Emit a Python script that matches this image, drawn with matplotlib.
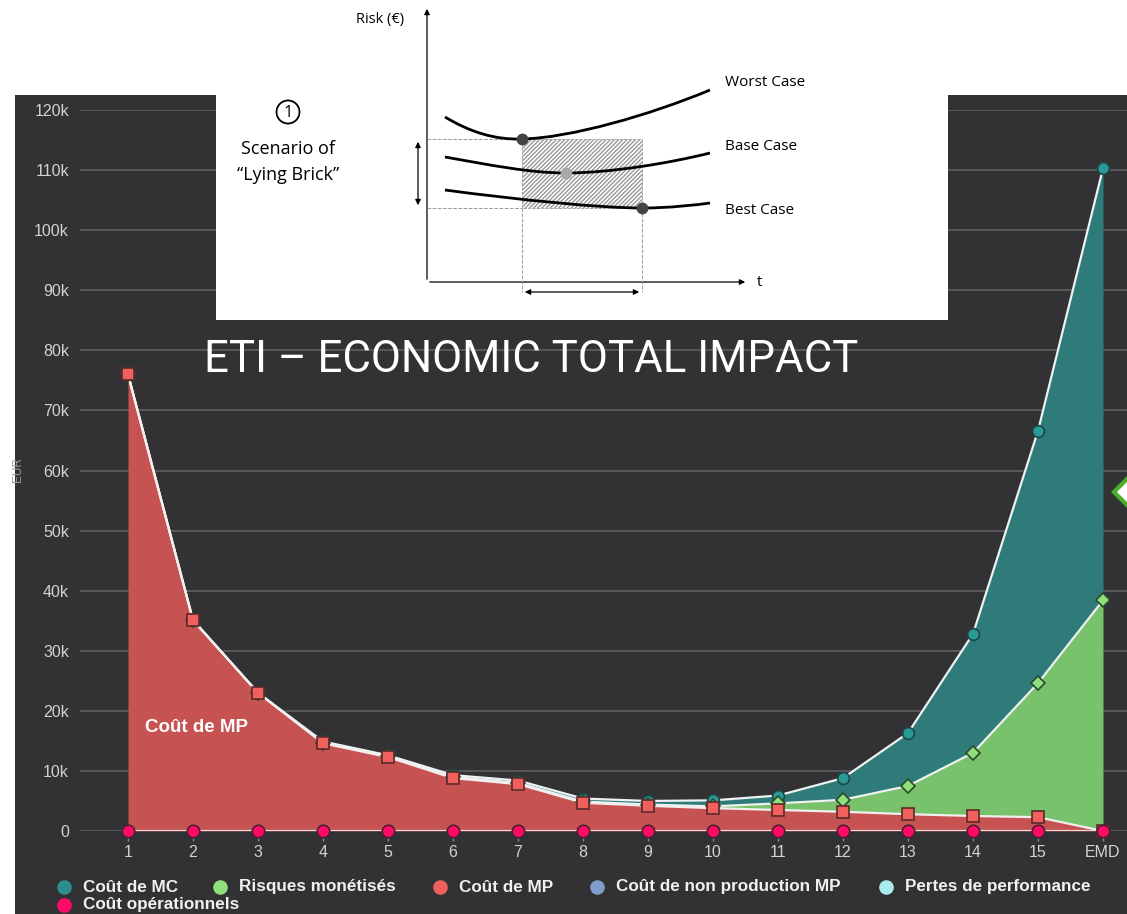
import numpy as np
import matplotlib.pyplot as plt
from matplotlib.patches import Rectangle, Circle, PathPatch, FancyArrowPatch
from matplotlib.path import Path
from matplotlib.lines import Line2D

# ------------------------------------------------------------
# data (k EUR, one value per layer of the stacked area)
# ------------------------------------------------------------
periods = ['1', '2', '3', '4', '5', '6', '7', '8', '9', '10',
           '11', '12', '13', '14', '15', 'EMD']
cout_operationnels = [0, 0, 0, 0, 0, 0, 0, 0, 0, 0, 0, 0, 0, 0, 0, 0]
cout_mp = [76.0, 35.1, 23.0, 14.6, 12.3, 8.8, 7.8, 4.7, 4.2, 3.8,
           3.5, 3.2, 2.8, 2.5, 2.3, 0.0]
risques = [0, 0, 0, 0.1, 0.1, 0.2, 0.2, 0.2, 0.2, 0.3,
           1.1, 2.0, 4.7, 10.5, 22.3, 38.4]
cout_mc = [0, 0, 0, 0.2, 0.2, 0.3, 0.4, 0.5, 0.6, 1.0,
           1.3, 3.6, 8.8, 19.8, 42.0, 71.9]
y_ticks = [0, 10, 20, 30, 40, 50, 60, 70, 80, 90, 100, 110, 120]

legend_items = ['Coût de MC', 'Risques monétisés', 'Coût de MP',
                'Coût de non production MP', 'Pertes de performance',
                'Coût opérationnels']
legend_colors = ['#2b8f8c', '#8ee07c', '#f0605d', '#7f9dcb', '#a9ecec', '#ff0a66']

# inset sketch ("lying brick"), in inset pixel coords
worst_pts = [(445, 117), (470, 132), (495, 140), (522, 139),
             (570, 138), (650, 115), (710, 90)]
base_pts = [(445, 157), (490, 165), (530, 173), (566, 173),
            (610, 173), (670, 163), (710, 153)]
best_pts = [(445, 190), (520, 200), (600, 208), (642, 208),
            (670, 208), (695, 205), (710, 203)]
case_labels = ['Worst Case', 'Base Case', 'Best Case']

W, H = 1127, 914
BG = '#323234'

fig = plt.figure(figsize=(W / 100, H / 100), dpi=100, facecolor='white')
fig.patches.append(Rectangle((15 / W, 0), 1, (H - 95) / H, transform=fig.transFigure,
                             facecolor=BG, edgecolor='none', zorder=0))

# ------------------------------------------------------------
# main stacked area chart
# ------------------------------------------------------------
ax = fig.add_axes([80 / W, (H - 831) / H, 1047 / W, 721 / H])
ax.set_facecolor('none')
ax.set_zorder(1)

x = np.arange(1, len(periods) + 1)
op = np.array(cout_operationnels) * 1000
mp_top = op + np.array(cout_mp) * 1000
risk_top = mp_top + np.array(risques) * 1000
mc_top = risk_top + np.array(cout_mc) * 1000

ax.fill_between(x, risk_top, mc_top, color='#2e7b79', lw=0, zorder=2)
ax.fill_between(x, mp_top, risk_top, color='#78c26c', lw=0, zorder=2)
ax.fill_between(x, op, mp_top, color='#c65352', lw=0, zorder=2)

ax.plot(x, mc_top, color='#eef2f2', lw=1.6, zorder=3)
ax.plot(x, risk_top, color='#eef2ee', lw=1.6, zorder=3)
ax.plot(x, mp_top, color='#f2eeee', lw=1.6, zorder=3)
ax.plot(x, op, color='#e0e0e0', lw=1.6, zorder=3)

ax.plot(x, mc_top, ls='none', marker='o', ms=8.5, mfc='#2a9a97', mec='#1d4645',
        mew=1.2, zorder=4, clip_on=False)
ax.plot(x, risk_top, ls='none', marker='D', ms=7, mfc='#8ee07c', mec='#2b4a2b',
        mew=1.2, zorder=5, clip_on=False)
ax.plot(x, mp_top, ls='none', marker='s', ms=9, mfc='#f0605d', mec='#5a2a2a',
        mew=1.2, zorder=6, clip_on=False)
ax.plot(x, op, ls='none', marker='o', ms=9, mfc='#ff0a66', mec='#4a2030',
        mew=1.2, zorder=7, clip_on=False)

ax.set_xlim(1 - 48 / 65, 16 + 24 / 65)
ax.set_ylim(0, 120000)
ax.set_yticks([v * 1000 for v in y_ticks])
ax.set_yticklabels(['0' if v == 0 else f'{v}k' for v in y_ticks])
ax.set_xticks(x)
ax.set_xticklabels(periods)
ax.grid(axis='y', color='#5c5c5e', lw=1.3, zorder=1)
ax.set_axisbelow(True)
for s in ax.spines.values():
    s.set_visible(False)
ax.tick_params(axis='y', length=0, pad=8, labelsize=11.5, labelcolor='#d2d2d2')
ax.tick_params(axis='x', length=7, width=1, color='#8a8a8a', pad=3,
               labelsize=11.5, labelcolor='#d2d2d2')
for lab in ax.get_xticklabels() + ax.get_yticklabels():
    lab.set_family('Liberation Sans')

ax.text(1.26, 17300, 'Coût de MP', color='white', fontsize=13.5, fontweight='bold',
        family='Liberation Sans', va='center', zorder=8)
fig.text(18 / W, 1 - 470 / H, 'EUR', rotation=90, color='#9a9a9a', fontsize=8.5,
         ha='center', va='center', family='Liberation Sans')

# green diamond cut by the right edge
fig.add_artist(Line2D([1131 / W], [1 - 492 / H], marker='D', ms=17, mfc='white',
                      mec='#4caf2a', mew=3, transform=fig.transFigure))

# ------------------------------------------------------------
# legend (drawn by hand to keep the row layout)
# ------------------------------------------------------------
leg_x = [64, 220, 440, 597, 886, 64]
leg_y = [887, 887, 887, 887, 887, 905]
for name, col, lx, ly in zip(legend_items, legend_colors, leg_x, leg_y):
    fig.add_artist(Line2D([lx / W], [1 - ly / H], marker='o', ms=10.5, mfc=col,
                          mec='none', transform=fig.transFigure))
    fig.text((lx + 19) / W, 1 - ly / H, name, color='#f0f0f0', fontsize=12.3,
             fontweight='bold', family='Liberation Sans', va='center')

# ------------------------------------------------------------
# title
# ------------------------------------------------------------
fig.text(531 / W, 1 - 360 / H, 'ETI – ECONOMIC TOTAL IMPACT', color='white',
         fontsize=31.5, family='Roboto', ha='center',
         va='center', zorder=10)

# ------------------------------------------------------------
# inset sketch
# ------------------------------------------------------------
ins = fig.add_axes([216 / W, (H - 320) / H, 732 / W, 320 / H])
ins.set_zorder(5)
ins.set_facecolor('white')
ins.set_xlim(216, 948)
ins.set_ylim(320, 0)
ins.axis('off')
ins.add_patch(Rectangle((216, 0), 732, 320, facecolor='white', edgecolor='none', zorder=0))

codes = [Path.MOVETO] + [Path.CURVE4] * 6
for pts in (worst_pts, base_pts, best_pts):
    ins.add_patch(PathPatch(Path(pts, codes), facecolor='none', edgecolor='black',
                            lw=2, zorder=4))

box_x0, box_x1 = worst_pts[3][0], best_pts[3][0]
box_y0, box_y1 = worst_pts[3][1], best_pts[3][1]
plt.rcParams['hatch.color'] = '#9a9a9a'
ins.add_patch(Rectangle((box_x0, box_y0), box_x1 - box_x0, box_y1 - box_y0,
                        facecolor='white', edgecolor='#999999', hatch='////////',
                        lw=0.6, ls='--', zorder=2))
ins.plot([427, box_x0], [box_y0, box_y0], color='#999999', lw=0.7, ls='--')
ins.plot([427, box_x0], [box_y1, box_y1], color='#999999', lw=0.7, ls='--')
ins.plot([box_x0, box_x0], [box_y1, 292], color='#999999', lw=0.7, ls='--')
ins.plot([box_x1, box_x1], [box_y1, 292], color='#999999', lw=0.7, ls='--')

ins.plot([worst_pts[3][0]], [worst_pts[3][1]], 'o', ms=7.5, color='#444444', zorder=5)
ins.plot([base_pts[3][0]], [base_pts[3][1]], 'o', ms=7.5, color='#a8a8a8', zorder=5)
ins.plot([best_pts[3][0]], [best_pts[3][1]], 'o', ms=7.5, color='#444444', zorder=5)

arrow_kw = dict(color='black', lw=0.9, mutation_scale=8)
ins.add_patch(FancyArrowPatch((427, 282), (427, 6), arrowstyle='-|>', **arrow_kw))
ins.add_patch(FancyArrowPatch((427, 282), (748, 282), arrowstyle='-|>', **arrow_kw))
ins.add_patch(FancyArrowPatch((418, box_y0), (418, box_y1), arrowstyle='<|-|>', **arrow_kw))
ins.add_patch(FancyArrowPatch((box_x0, 292), (box_x1, 292), arrowstyle='<|-|>', **arrow_kw))

sk_font = 'Open Sans'
ins.text(380, 20, 'Risk (€)', fontsize=10.5, ha='center', va='center', family=sk_font)
ins.text(757, 282, 't', fontsize=11, ha='left', va='center', family=sk_font)
for lab, yy in zip(case_labels, [83, 147, 211]):
    ins.text(725, yy, lab, fontsize=11, ha='left', va='center', family=sk_font)

ins.add_patch(Circle((288, 112), 11.5, facecolor='none', edgecolor='black', lw=1.3))
ins.text(288, 113, '1', fontsize=12, ha='center', va='center', family=sk_font)
ins.text(288, 149, 'Scenario of', fontsize=13, ha='center', va='center', family=sk_font)
ins.text(288, 175, '“Lying Brick”', fontsize=13, ha='center', va='center', family=sk_font)

fig.savefig('out.png', dpi=100, facecolor='white')
